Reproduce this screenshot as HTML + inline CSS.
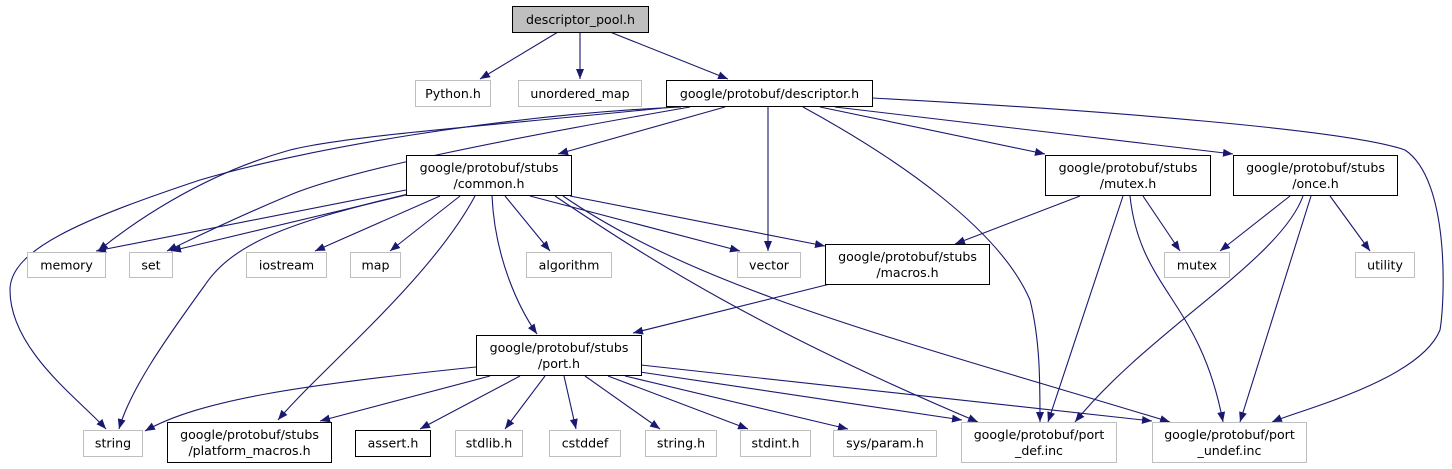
<!DOCTYPE html>
<html><head><meta charset="utf-8"><style>
html,body{margin:0;padding:0;background:#fff;}
svg{display:block;}
text{font-family:"DejaVu Sans","Liberation Sans",sans-serif;font-size:12.6px;fill:#000;}
</style></head><body>
<svg width="1452" height="469" viewBox="0 0 1452 469" xmlns="http://www.w3.org/2000/svg">
<defs><marker id="a" markerWidth="11" markerHeight="8" refX="10" refY="4" orient="auto" markerUnits="userSpaceOnUse"><path d="M0,0 L10,4 L0,8 z" fill="#191970"/></marker></defs>
<g fill="none" stroke="#191970" stroke-width="1.1" marker-end="url(#a)">
<path d="M558,32 L480,79"/>
<path d="M580,32 L580,79"/>
<path d="M610,32 L728,79"/>
<path d="M681,107 C500,115 300,150 200,180 C80,220 10,250 10,290 C10,350 80,400 106,429"/>
<path d="M673,107 C500,125 350,135 290,150 C200,175 130,225 98,251"/>
<path d="M690,107 C500,140 350,170 290,195 C230,220 190,240 167,251"/>
<path d="M725,107 L558,154"/>
<path d="M768,107 L768,251"/>
<path d="M803,107 C900,160 1000,230 1030,300 C1040,340 1040,380 1040,422"/>
<path d="M820,107 L1045,154"/>
<path d="M835,107 L1233,154"/>
<path d="M872,98 C1100,110 1350,130 1405,150 C1450,180 1445,300 1440,330 C1420,380 1300,410 1272,422"/>
<path d="M406,190 L96,251"/>
<path d="M406,195 L171,251"/>
<path d="M408,194 C300,220 235,240 205,285 C165,340 130,390 119,429"/>
<path d="M440,196 L315,251"/>
<path d="M460,196 L390,251"/>
<path d="M475,196 C430,280 320,370 278,420"/>
<path d="M492,196 C495,260 520,310 537,334"/>
<path d="M505,196 L550,251"/>
<path d="M530,196 L740,251"/>
<path d="M570,196 L825,246"/>
<path d="M555,196 C650,260 760,330 978,422"/>
<path d="M563,196 C700,290 900,340 1170,422"/>
<path d="M1080,196 L955,244"/>
<path d="M1123,196 L1048,422"/>
<path d="M1130,196 C1140,290 1200,300 1223,422"/>
<path d="M1143,196 L1180,251"/>
<path d="M1290,196 L1220,251"/>
<path d="M1303,196 C1280,260 1150,330 1075,422"/>
<path d="M1311,196 L1240,422"/>
<path d="M1330,196 L1370,251"/>
<path d="M830,284 L633,333"/>
<path d="M476,367 C300,385 200,400 145,431"/>
<path d="M490,376 L320,421"/>
<path d="M520,376 L420,429"/>
<path d="M545,376 L505,429"/>
<path d="M564,376 L576,429"/>
<path d="M585,376 L660,429"/>
<path d="M608,376 L748,429"/>
<path d="M625,376 L848,429"/>
<path d="M640,372 L962,420"/>
<path d="M641,365 L1152,421"/>
</g>
<g stroke-width="1">
<rect x="512.5" y="6.5" width="136" height="26" fill="#bfbfbf" stroke="#000"/>
<rect x="415.5" y="80.5" width="75" height="26" fill="#fff" stroke="#bfbfbf"/>
<rect x="518.5" y="80.5" width="123" height="26" fill="#fff" stroke="#bfbfbf"/>
<rect x="666.5" y="80.5" width="206" height="26" fill="#fff" stroke="#000"/>
<rect x="406.5" y="155.5" width="165" height="40" fill="#fff" stroke="#000"/>
<rect x="1045.5" y="155.5" width="165" height="40" fill="#fff" stroke="#000"/>
<rect x="1233.5" y="155.5" width="164" height="40" fill="#fff" stroke="#000"/>
<rect x="27.5" y="252.5" width="78" height="25" fill="#fff" stroke="#bfbfbf"/>
<rect x="129.5" y="252.5" width="43" height="25" fill="#fff" stroke="#bfbfbf"/>
<rect x="246.5" y="252.5" width="80" height="25" fill="#fff" stroke="#bfbfbf"/>
<rect x="350.5" y="252.5" width="50" height="25" fill="#fff" stroke="#bfbfbf"/>
<rect x="526.5" y="252.5" width="85" height="25" fill="#fff" stroke="#bfbfbf"/>
<rect x="737.5" y="252.5" width="63" height="25" fill="#fff" stroke="#bfbfbf"/>
<rect x="825.5" y="244.5" width="164" height="40" fill="#fff" stroke="#000"/>
<rect x="1164.5" y="252.5" width="65" height="25" fill="#fff" stroke="#bfbfbf"/>
<rect x="1355.5" y="252.5" width="59" height="25" fill="#fff" stroke="#bfbfbf"/>
<rect x="476.5" y="335.5" width="165" height="40" fill="#fff" stroke="#000"/>
<rect x="83.5" y="430.5" width="59" height="26" fill="#fff" stroke="#bfbfbf"/>
<rect x="167.5" y="422.5" width="164" height="40" fill="#fff" stroke="#000"/>
<rect x="355.5" y="430.5" width="75" height="26" fill="#fff" stroke="#000"/>
<rect x="455.5" y="430.5" width="67" height="26" fill="#fff" stroke="#bfbfbf"/>
<rect x="549.5" y="430.5" width="71" height="26" fill="#fff" stroke="#bfbfbf"/>
<rect x="645.5" y="430.5" width="71" height="26" fill="#fff" stroke="#bfbfbf"/>
<rect x="740.5" y="430.5" width="70" height="26" fill="#fff" stroke="#bfbfbf"/>
<rect x="833.5" y="430.5" width="103" height="26" fill="#fff" stroke="#bfbfbf"/>
<rect x="961.5" y="422.5" width="155" height="40" fill="#fff" stroke="#bfbfbf"/>
<rect x="1152.5" y="422.5" width="154" height="40" fill="#fff" stroke="#bfbfbf"/>
</g>
<g text-anchor="middle">
<text x="580.5" y="24">descriptor_pool.h</text>
<text x="453" y="98">Python.h</text>
<text x="580" y="98">unordered_map</text>
<text x="769.5" y="98">google/protobuf/descriptor.h</text>
<text x="489" y="172">google/protobuf/stubs</text><text x="489" y="188">/common.h</text>
<text x="1128" y="172">google/protobuf/stubs</text><text x="1128" y="188">/mutex.h</text>
<text x="1315.5" y="172">google/protobuf/stubs</text><text x="1315.5" y="188">/once.h</text>
<text x="66.5" y="269.5">memory</text>
<text x="151" y="269.5">set</text>
<text x="286.5" y="269.5">iostream</text>
<text x="375.5" y="269.5">map</text>
<text x="569" y="269.5">algorithm</text>
<text x="769" y="269.5">vector</text>
<text x="907.5" y="261">google/protobuf/stubs</text><text x="907.5" y="277">/macros.h</text>
<text x="1197" y="269.5">mutex</text>
<text x="1385" y="269.5">utility</text>
<text x="559" y="352">google/protobuf/stubs</text><text x="559" y="368">/port.h</text>
<text x="113" y="447.5">string</text>
<text x="249.5" y="439">google/protobuf/stubs</text><text x="249.5" y="455">/platform_macros.h</text>
<text x="393" y="447.5">assert.h</text>
<text x="489" y="447.5">stdlib.h</text>
<text x="585" y="447.5">cstddef</text>
<text x="681" y="447.5">string.h</text>
<text x="775.5" y="447.5">stdint.h</text>
<text x="885" y="447.5">sys/param.h</text>
<text x="1039" y="439">google/protobuf/port</text><text x="1039" y="455">_def.inc</text>
<text x="1229.5" y="439">google/protobuf/port</text><text x="1229.5" y="455">_undef.inc</text>
</g>
</svg>
</body></html>
